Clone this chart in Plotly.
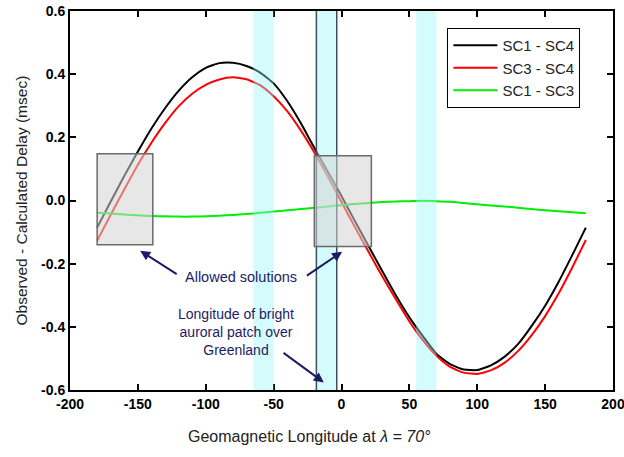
import plotly.graph_objects as go

# Geomagnetic longitude (deg) at which each delay residual was evaluated
longitude = [-180, -170, -160, -150, -140, -130, -120, -110, -100, -90, -80, -70,
             -60, -50, -40, -30, -20, -10, 0, 10, 20, 30, 40, 50, 60, 70, 80, 90,
             100, 110, 120, 130, 140, 150, 160, 170, 180]

# Observed minus calculated delay (msec) for each spacecraft pair
sc1_sc4 = [-0.086, -0.003, 0.078, 0.155, 0.228, 0.292, 0.347, 0.39, 0.42, 0.435, 0.436,
           0.426, 0.405, 0.371, 0.315, 0.245, 0.166, 0.09, 0.014, -0.066, -0.145, -0.223,
           -0.3, -0.37, -0.43, -0.486, -0.518, -0.535, -0.537, -0.522, -0.495, -0.455,
           -0.398, -0.333, -0.257, -0.173, -0.086]
sc3_sc4 = [-0.127, -0.045, 0.035, 0.113, 0.183, 0.245, 0.298, 0.338, 0.366, 0.383, 0.39,
           0.384, 0.365, 0.33, 0.283, 0.222, 0.152, 0.075, -0.005, -0.085, -0.163, -0.24,
           -0.313, -0.383, -0.443, -0.492, -0.527, -0.545, -0.549, -0.538, -0.514, -0.477,
           -0.427, -0.366, -0.294, -0.212, -0.125]
sc1_sc3 = [-0.039, -0.041, -0.044, -0.047, -0.049, -0.05, -0.051, -0.051, -0.05, -0.048,
           -0.046, -0.043, -0.039, -0.035, -0.031, -0.027, -0.023, -0.019, -0.015, -0.011,
           -0.008, -0.005, -0.003, -0.002, -0.001, -0.002, -0.004, -0.008, -0.012, -0.016,
           -0.019, -0.023, -0.027, -0.031, -0.034, -0.037, -0.04]

series_names = ["SC1 - SC4", "SC3 - SC4", "SC1 - SC3"]
series_colors = ["#000000", "#ff0000", "#00ee00"]

# Longitude bands of auroral activity (deg)
bands = [(-65, -50), (-18.5, -3.5), (55, 70)]
bright_patch = (-18.5, -3.5)

# Allowed-solution windows: (lon0, lon1, delay0, delay1)
allowed = [(-180, -139, -0.14, 0.148), (-20, 22, -0.146, 0.142)]

x_ticks = [-200, -150, -100, -50, 0, 50, 100, 150, 200]
x_ticktext = ["-200", "-150", "-100", "-50", "0", "50", "100", "150", "200"]
y_ticks = [-0.6, -0.4, -0.2, 0.0, 0.2, 0.4, 0.6]
y_ticktext = ["-0.6", "-0.4", "-0.2", "0.0", "0.2", "0.4", "0.6"]

FONT = "Liberation Sans, Arial, sans-serif"
NAVY = "#1c1c66"
TITLE_GREY = "#222222"

fig = go.Figure()
for name, vals, col in zip(series_names, [sc1_sc4, sc3_sc4, sc1_sc3], series_colors):
    fig.add_trace(go.Scatter(x=longitude, y=vals, mode="lines", name=name,
                             line=dict(color=col, width=2, shape="spline", smoothing=0.5)))

shapes = []
for x0, x1 in bands:
    shapes.append(dict(type="rect", xref="x", yref="paper", x0=x0, x1=x1, y0=0, y1=1,
                       fillcolor="rgba(150,248,248,0.4)", line=dict(width=0), layer="above"))
for xv in bright_patch:
    shapes.append(dict(type="line", xref="x", yref="paper", x0=xv, x1=xv, y0=0, y1=1,
                       line=dict(color="#3e4e60", width=1.5), layer="above"))
for x0, x1, y0, y1 in allowed:
    shapes.append(dict(type="rect", xref="x", yref="y", x0=x0, x1=x1, y0=y0, y1=y1,
                       fillcolor="rgba(212,212,212,0.55)",
                       line=dict(color="#6a6a6a", width=1.5), layer="above"))

annotations = [
    dict(x=-74, y=-0.241, xref="x", yref="y", text="Allowed solutions", showarrow=False,
         font=dict(family=FONT, size=14.5, color=NAVY)),
    dict(x=-148.3, y=-0.159, ax=-120.3, ay=-0.236, xref="x", yref="y", axref="x", ayref="y",
         text="", showarrow=True, arrowhead=2, arrowsize=1, arrowwidth=2, arrowcolor=NAVY),
    dict(x=0.5, y=-0.162, ax=-26.6, ay=-0.241, xref="x", yref="y", axref="x", ayref="y",
         text="", showarrow=True, arrowhead=2, arrowsize=1, arrowwidth=2, arrowcolor=NAVY),
    dict(x=-78, y=-0.4155, xref="x", yref="y",
         text="Longitude of bright<br>auroral patch over<br>Greenland", showarrow=False,
         align="center", font=dict(family=FONT, size=14, color=NAVY)),
    dict(x=-13, y=-0.576, ax=-43.8, ay=-0.479, xref="x", yref="y", axref="x", ayref="y",
         text="", showarrow=True, arrowhead=2, arrowsize=1, arrowwidth=2, arrowcolor=NAVY),
    # axis titles
    dict(x=0.2137, y=-0.124, xref="paper", yref="paper", xanchor="left", yanchor="middle",
         text="Geomagnetic Longitude at <i>λ = 70°</i>", showarrow=False,
         font=dict(family=FONT, size=16, color=TITLE_GREY)),
    dict(x=-0.0884, y=0.5, xref="paper", yref="paper", xanchor="center", yanchor="middle",
         textangle=-90, text="Observed - Calculated Delay (msec)", showarrow=False,
         font=dict(family=FONT, size=15.5, color=TITLE_GREY)),
]

axis_common = dict(showline=True, linecolor="black", linewidth=2, mirror="ticks",
                   ticks="inside", ticklen=6, tickwidth=1.5, tickcolor="black",
                   showgrid=False, zeroline=False, automargin=False,
                   ticklabeloverflow="allow",
                   tickfont=dict(family=FONT, size=14, color="black", weight="bold"))

fig.update_layout(
    width=624, height=457,
    margin=dict(l=70, r=11, t=11, b=67),
    paper_bgcolor="white", plot_bgcolor="white",
    font=dict(family=FONT),
    showlegend=True,
    legend=dict(x=0.695, y=0.955, xanchor="left", yanchor="top",
                bgcolor="white", bordercolor="black", borderwidth=1,
                font=dict(family=FONT, size=15, color=TITLE_GREY),
                tracegroupgap=0, itemwidth=44, entrywidth=140),
    xaxis=dict(range=[-200, 200], tickvals=x_ticks, ticktext=x_ticktext, **axis_common),
    yaxis=dict(range=[-0.6, 0.6], tickvals=y_ticks, ticktext=y_ticktext, **axis_common),
    shapes=shapes,
    annotations=annotations,
)

fig.write_html("out.html")
